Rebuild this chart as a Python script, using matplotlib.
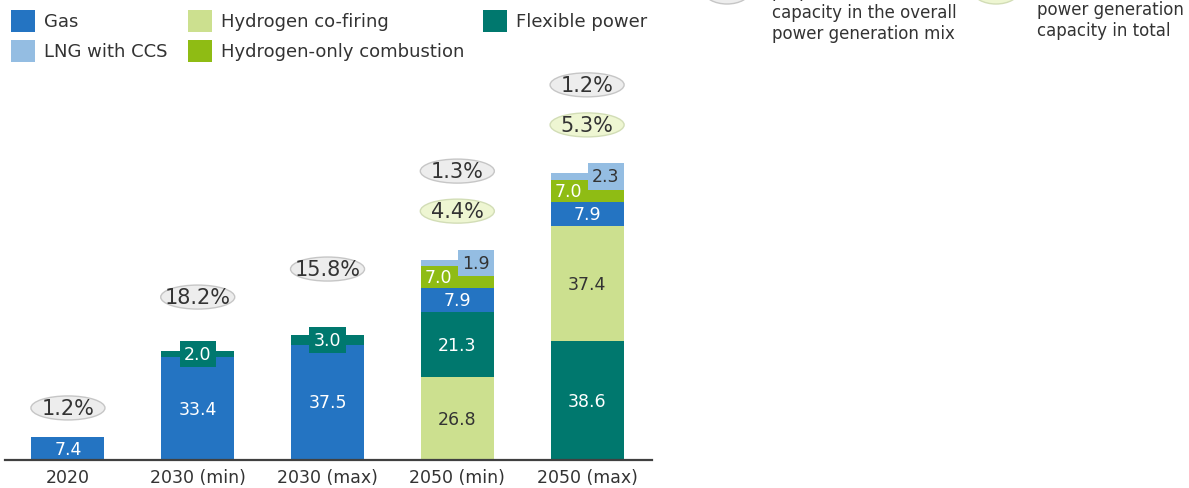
import numpy as np
import matplotlib.pyplot as plt
from matplotlib.patches import Ellipse, Rectangle

# data (capacity values)
categories = ["2020", "2030 (min)", "2030 (max)", "2050 (min)", "2050 (max)"]
gas = [7.4, 33.4, 37.5, 7.9, 7.9]
lng_ccs = [0, 0, 0, 1.9, 2.3]
h2_cofiring = [0, 0, 0, 26.8, 37.4]
h2_only = [0, 0, 0, 7.0, 7.0]
flexible = [0, 2.0, 3.0, 21.3, 38.6]
gas_share = ["1.2%", "18.2%", "15.8%", "1.3%", "1.2%"]
h2_share = [None, None, None, "4.4%", "5.3%"]

# stacking order, bottom to top, per bar
stack_order = [
    ["gas"],
    ["gas", "flex"],
    ["gas", "flex"],
    ["cofire", "flex", "gas", "h2only", "lng"],
    ["flex", "cofire", "gas", "h2only", "lng"],
]

series = {
    "gas": (gas, "#2474C2", "Gas"),
    "lng": (lng_ccs, "#94BDE2", "LNG with CCS"),
    "cofire": (h2_cofiring, "#CCE08F", "Hydrogen co-firing"),
    "h2only": (h2_only, "#8FBC14", "Hydrogen-only combustion"),
    "flex": (flexible, "#00786E", "Flexible power"),
}
dark_text = {"lng", "cofire"}

# layout helpers (pixels -> axes units)
W, H = 1189, 489
px_per_unit = 3.08
px_per_cat = 129.75
base_px = 461

fig = plt.figure(figsize=(W / 100, H / 100), dpi=100)
ax = fig.add_axes([5 / W, (H - base_px) / H, 647 / W, base_px / H])
ax.set_xlim(-0.485, 4.50)
ax.set_ylim(0, base_px / px_per_unit)

bar_w = 73 / px_per_cat
x = np.arange(len(categories))

for i, order in enumerate(stack_order):
    bottom = 0
    for key in order:
        vals, color, _ = series[key]
        v = vals[i]
        ax.bar(x[i], v, bar_w, bottom=bottom, color=color, edgecolor="none", zorder=2)
        tc = "#333333" if key in dark_text else "white"
        yc = bottom + v / 2
        if key == "lng":
            ax.text(x[i] + bar_w / 2 - 4 / px_per_cat, yc, f"{v:.1f}", ha="right", va="center",
                    fontsize=12.5, color=tc, zorder=4,
                    bbox=dict(boxstyle="square,pad=0.25", fc=color, ec="none"))
        elif key == "flex" and v < 5:
            ax.text(x[i], yc, f"{v:.1f}", ha="center", va="center", fontsize=12.5, color=tc, zorder=4,
                    bbox=dict(boxstyle="square,pad=0.25", fc=color, ec="none"))
        elif key == "h2only":
            ax.text(x[i] - 19 / px_per_cat, yc, f"{v:.1f}", ha="center", va="center",
                    fontsize=12.5, color=tc, zorder=4)
        else:
            ax.text(x[i], yc, f"{v:.1f}", ha="center", va="center", fontsize=12.5, color=tc, zorder=4)
        bottom += v

# share bubbles
gas_label_y = [16.9, 52.9, 62.0, 93.8, 121.8]
h2_label_y = [None, None, None, 80.8, 108.8]
ell_w, ell_h = 74 / px_per_cat, 24 / px_per_unit


def bubble(xc, yc, label, fc, ec):
    ax.add_patch(Ellipse((xc, yc), ell_w, ell_h, fc=fc, ec=ec, lw=1.0, zorder=3))
    ax.text(xc, yc, label, ha="center", va="center", fontsize=15, color="#333333", zorder=4)


for i in range(len(categories)):
    bubble(x[i], gas_label_y[i], gas_share[i], "#EDEDED", "#C6C6C6")
    if h2_share[i] is not None:
        bubble(x[i], h2_label_y[i], h2_share[i], "#EEF6D2", "#D2DDB6")

ax.set_xticks(x)
ax.set_xticklabels(categories, fontsize=12.5, color="#333333")
ax.tick_params(axis="x", length=0, pad=6)
ax.set_yticks([])
for s in ["top", "right", "left"]:
    ax.spines[s].set_visible(False)
ax.spines["bottom"].set_color("#404040")
ax.spines["bottom"].set_linewidth(1.6)
ax.spines["bottom"].set_zorder(5)

# legend (top left)
legend_items = [("gas", 11, 22), ("lng", 11, 52), ("cofire", 188, 22), ("h2only", 188, 52), ("flex", 483, 22)]
for key, lx, ly in legend_items:
    _, color, name = series[key]
    fig.add_artist(Rectangle((lx / W, 1 - (ly + 11) / H), 24 / W, 22 / H, transform=fig.transFigure,
                             fc=color, ec="none"))
    fig.text((lx + 33) / W, 1 - ly / H, name, ha="left", va="center", fontsize=13, color="#333333")

# bubble legend (top right, cut off by the figure edge)
fig.add_artist(Ellipse((727 / W, 1 + 8 / H), 46 / W, 26 / H, transform=fig.transFigure,
                       fc="#EDEDED", ec="#C6C6C6", lw=1.0))
fig.text(772 / W, 1 - 13 / H, "proportion of\ncapacity in the overall\npower generation mix",
         ha="left", va="center", fontsize=12, color="#333333", linespacing=1.2)
fig.add_artist(Ellipse((996 / W, 1 + 8 / H), 46 / W, 26 / H, transform=fig.transFigure,
                       fc="#EEF6D2", ec="#D2DDB6", lw=1.0))
fig.text(1037 / W, 1 - 10 / H, "hydrogen-fired\npower generation\ncapacity in total",
         ha="left", va="center", fontsize=12, color="#333333", linespacing=1.2)

fig.savefig("out.png", dpi=100)
